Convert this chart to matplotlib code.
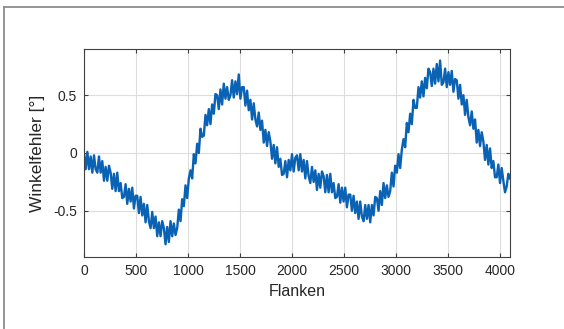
import numpy as np
import matplotlib.pyplot as plt
from matplotlib.lines import Line2D

plt.rcParams['font.family'] = ['Liberation Sans', 'DejaVu Sans']
plt.rcParams['axes.unicode_minus'] = False

# Winkelfehler, one value every 16 flanks (0 .. 4096)
step = 16
winkelfehler = [
    -0.01, -0.14, 0.01, -0.14, -0.03, -0.17, -0.02, -0.14,
    -0.17, -0.03, -0.17, -0.07, -0.24, -0.12, -0.24, -0.11,
    -0.17, -0.31, -0.18, -0.33, -0.17, -0.33, -0.26, -0.39,
    -0.38, -0.27, -0.44, -0.31, -0.42, -0.30, -0.48, -0.37,
    -0.37, -0.52, -0.38, -0.54, -0.44, -0.60, -0.45, -0.59,
    -0.65, -0.51, -0.65, -0.55, -0.72, -0.60, -0.72, -0.59,
    -0.65, -0.79, -0.64, -0.77, -0.59, -0.72, -0.61, -0.71,
    -0.65, -0.49, -0.59, -0.40, -0.46, -0.28, -0.39, -0.22,
    -0.15, -0.22, -0.01, -0.09, 0.08, 0.00, 0.21, 0.14,
    0.15, 0.33, 0.24, 0.38, 0.25, 0.42, 0.34, 0.51,
    0.50, 0.38, 0.55, 0.42, 0.60, 0.47, 0.57, 0.46,
    0.50, 0.63, 0.48, 0.62, 0.51, 0.68, 0.47, 0.57,
    0.57, 0.41, 0.54, 0.37, 0.46, 0.29, 0.43, 0.29,
    0.23, 0.35, 0.20, 0.28, 0.09, 0.20, 0.06, 0.18,
    0.10, -0.05, 0.07, -0.09, 0.05, -0.12, -0.05, -0.19,
    -0.18, -0.07, -0.21, -0.06, -0.15, -0.01, -0.16, -0.04,
    -0.02, -0.15, -0.01, -0.16, -0.06, -0.22, -0.07, -0.20,
    -0.26, -0.12, -0.25, -0.15, -0.32, -0.18, -0.30, -0.16,
    -0.20, -0.34, -0.19, -0.34, -0.18, -0.34, -0.26, -0.39,
    -0.38, -0.27, -0.43, -0.30, -0.42, -0.30, -0.47, -0.36,
    -0.36, -0.50, -0.37, -0.52, -0.42, -0.57, -0.42, -0.55,
    -0.59, -0.45, -0.57, -0.45, -0.60, -0.45, -0.54, -0.38,
    -0.39, -0.50, -0.33, -0.45, -0.26, -0.39, -0.28, -0.38,
    -0.33, -0.17, -0.29, -0.11, -0.17, -0.01, -0.13, 0.03,
    0.12, 0.05, 0.26, 0.18, 0.34, 0.25, 0.46, 0.39,
    0.39, 0.57, 0.48, 0.62, 0.49, 0.65, 0.56, 0.73,
    0.70, 0.58, 0.73, 0.60, 0.77, 0.62, 0.80, 0.59,
    0.61, 0.73, 0.57, 0.70, 0.59, 0.71, 0.53, 0.64,
    0.63, 0.47, 0.59, 0.42, 0.50, 0.33, 0.46, 0.31,
    0.24, 0.36, 0.21, 0.29, 0.09, 0.20, 0.06, 0.18,
    0.10, -0.06, 0.07, -0.10, 0.04, -0.13, -0.07, -0.21,
    -0.21, -0.10, -0.26, -0.13, -0.24, -0.34, -0.29, -0.18,
    -0.22,
]
flanken = np.arange(len(winkelfehler)) * step

x_ticks = [0, 500, 1000, 1500, 2000, 2500, 3000, 3500, 4000]
y_ticks = [-0.5, 0, 0.5]
y_ticklabels = ['-0.5', '0', '0.5']

W, H = 564, 329
fig = plt.figure(figsize=(W / 100, H / 100), dpi=100)
ax = fig.add_axes([84 / W, 1 - 257 / H, 426 / W, 208 / H])

ax.plot(flanken, winkelfehler, c='#0a62b4', lw=1.7)

ax.set_xlim(0, 4096)
ax.set_ylim(-0.9, 0.9)
ax.set_xticks(x_ticks)
ax.set_yticks(y_ticks)
ax.set_yticklabels(y_ticklabels)
ax.grid(True, color='#dddddd', lw=0.8)
ax.set_axisbelow(True)
ax.tick_params(direction='in', top=True, right=True, length=3,
               labelsize=10, color='#404040', labelcolor='#262626', pad=5)
for s in ax.spines.values():
    s.set_color('#404040')
    s.set_linewidth(0.8)

ax.set_xlabel('Flanken', fontsize=11.5, color='#262626', labelpad=4)
ax.set_ylabel('Winkelfehler [°]', fontsize=12.5, color='#262626', labelpad=6)

# grey frame of the cropped figure window (top and left edges)
fig.add_artist(Line2D([3.5 / W, 3.5 / W], [0, 1 - 6.5 / H],
                      transform=fig.transFigure, color='#8c8c8c', lw=1.3))
fig.add_artist(Line2D([3.5 / W, 1], [1 - 6.5 / H, 1 - 6.5 / H],
                      transform=fig.transFigure, color='#8c8c8c', lw=1.3))

fig.savefig('out.png', dpi=100)
